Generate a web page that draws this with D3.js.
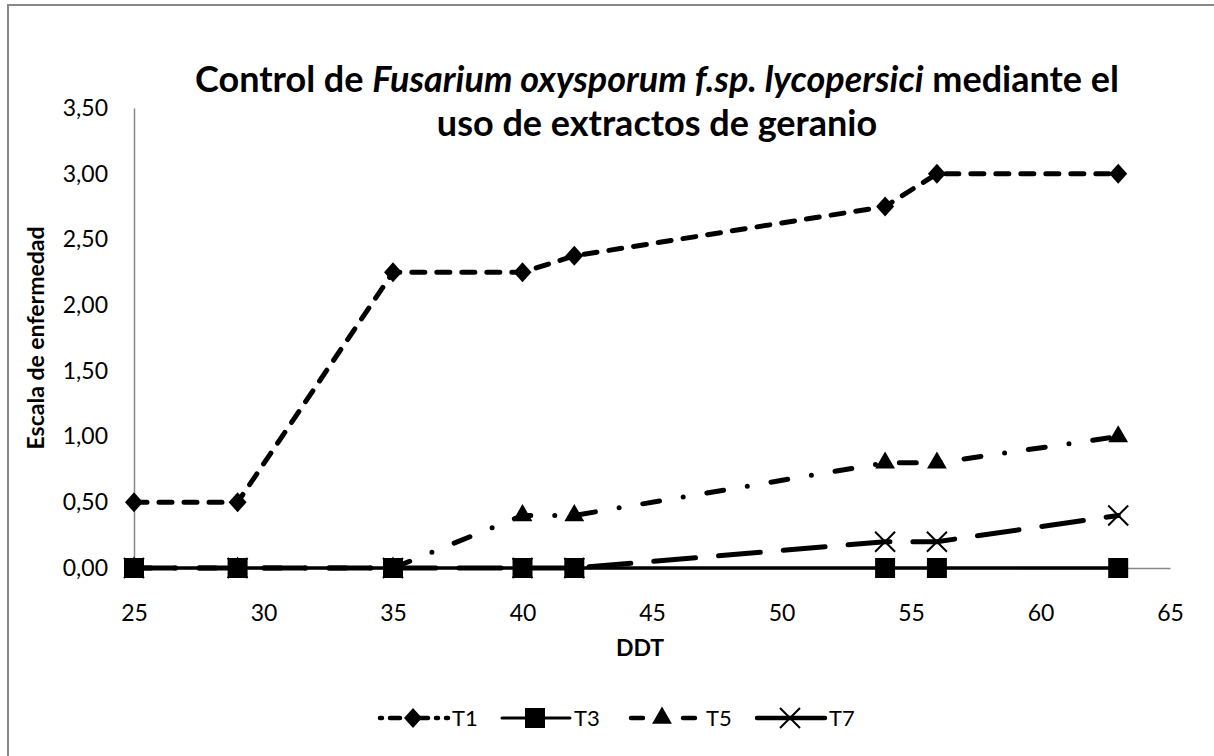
<!DOCTYPE html>
<html>
<head>
<meta charset="utf-8">
<script src="https://cdn.jsdelivr.net/npm/d3@7"></script>
<style>
body { margin: 0; background: #fff; }
text { font-family: Lato, "Open Sans", sans-serif; fill: #000; }
</style>
</head>
<body>
<script>
var days = [25, 29, 35, 40, 42, 54, 56, 63];
var t1 = [0.5, 0.5, 2.25, 2.25, 2.375, 2.75, 3.0, 3.0];
var t3 = [0, 0, 0, 0, 0, 0, 0, 0];
var t5 = [0, 0, 0, 0.4, 0.4, 0.8, 0.8, 1.0];
var t7 = [0, 0, 0, 0, 0, 0.2, 0.2, 0.4];
var seriesNames = ['T1', 'T3', 'T5', 'T7'];
var xTicks = [25, 30, 35, 40, 45, 50, 55, 60, 65];
var yTicks = [0, 0.5, 1, 1.5, 2, 2.5, 3, 3.5];

var width = 1214, height = 756;
var svg = d3.select('body').append('svg').attr('width', width).attr('height', height);

// outer frame (only left and top edges are visible)
svg.append('path').attr('d', 'M8,756V5H1214').attr('fill', 'none').attr('stroke', '#888').attr('stroke-width', 2);

var x = d3.scaleLinear().domain([25, 65]).range([134, 1170]);
var y = d3.scaleLinear().domain([0, 3.5]).range([568, 108]);
var fmt = function (v) { return d3.format('.2f')(v).replace('.', ','); };

// axes
var xAxis = svg.append('g').attr('transform', 'translate(0,' + y(0) + ')')
	.call(d3.axisBottom(x).tickValues(xTicks).tickSize(0).tickPadding(37));
var yAxis = svg.append('g').attr('transform', 'translate(' + x(25) + ',0)')
	.call(d3.axisLeft(y).tickValues(yTicks).tickFormat(fmt).tickSize(0).tickPadding(26));
[xAxis, yAxis].forEach(function (a) {
	a.select('.domain').attr('stroke', '#888').attr('stroke-width', 1.5);
	a.selectAll('text').attr('font-size', 23);
});

// title
var title = svg.append('text').attr('text-anchor', 'middle').attr('font-size', 36).attr('font-weight', 'bold');
var l1 = title.append('tspan').attr('x', 657).attr('y', 92);
l1.append('tspan').text('Control de ');
l1.append('tspan').attr('font-style', 'italic').text('Fusarium oxysporum f.sp. lycopersici');
l1.append('tspan').text(' mediante el');
title.append('tspan').attr('x', 657).attr('y', 136).text('uso de extractos de geranio');

svg.append('text').attr('x', 640).attr('y', 656).attr('text-anchor', 'middle')
	.attr('font-size', 23).attr('font-weight', 'bold').text('DDT');
svg.append('text').attr('transform', 'translate(44,' + ((108 + 568) / 2) + ') rotate(-90)')
	.attr('text-anchor', 'middle').attr('font-size', 23).attr('font-weight', 'bold').text('Escala de enfermedad');

// series
var diamond = 'M0,-10L9,0L0,10L-9,0Z';
var styles = {
	T1: { vals: t1, dash: '13,12', path: diamond, w: 5 },
	T3: { vals: t3, dash: null, path: d3.symbol().type(d3.symbolSquare).size(400)(), w: 3.5 },
	T5: { vals: t5, dash: '17,24,0,24', path: d3.symbol().type(d3.symbolTriangle).size(170)(), w: 5 },
	T7: { vals: t7, dash: '42,23', path: null, w: 5 }
};
var line = d3.line().x(function (d) { return x(d[0]); }).y(function (d) { return y(d[1]); });

function marker(g, s) {
	if (!s.path) {
		g.append('path').attr('d', 'M-10,-10L10,10M-10,10L10,-10')
			.attr('stroke', '#000').attr('stroke-width', 2).attr('fill', 'none');
	} else {
		g.append('path').attr('d', s.path).attr('fill', '#000');
	}
}

['T3', 'T7', 'T5', 'T1'].forEach(function (name) {
	var s = styles[name];
	var pts = days.map(function (d, i) { return [d, s.vals[i]]; });
	svg.append('path').datum(pts).attr('d', line).attr('fill', 'none').attr('stroke', '#000')
		.attr('stroke-width', s.w).attr('stroke-linecap', 'round')
		.attr('stroke-dasharray', s.dash);
	svg.selectAll(null).data(pts).enter().append('g')
		.attr('transform', function (d) { return 'translate(' + x(d[0]) + ',' + y(d[1]) + ')'; })
		.each(function () { marker(d3.select(this), s); });
});

// legend
var lx = [380, 502, 629, 757];
var legDash = { T1: '2,8,10,8', T3: null, T5: '12,40', T7: null };
var legend = svg.selectAll('.leg').data(seriesNames).enter().append('g')
	.attr('class', 'leg').attr('transform', function (d, i) { return 'translate(' + lx[i] + ',718)'; });
legend.append('line').attr('x1', function (d) { return d === 'T5' ? 2 : 0; })
	.attr('x2', 68).attr('y1', 0).attr('y2', 0)
	.attr('stroke', '#000').attr('stroke-width', function (d) { return styles[d].w - 0.5; })
	.attr('stroke-linecap', 'round')
	.attr('stroke-dasharray', function (d) { return legDash[d]; });
legend.append('g').attr('transform', 'translate(33,0)')
	.each(function (d) { marker(d3.select(this), styles[d]); });
legend.append('text').attr('x', function (d) { return d === 'T5' ? 77 : 72; }).attr('y', 8)
	.attr('font-size', 22).text(function (d) { return d; });
</script>
</body>
</html>
